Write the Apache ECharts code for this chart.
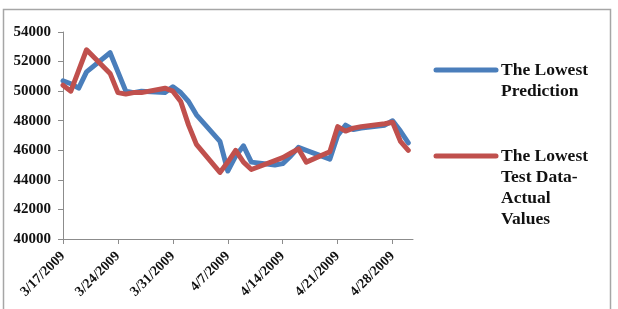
<!DOCTYPE html>
<html>
<head>
<meta charset="utf-8">
<style>
html,body{margin:0;padding:0;background:#fff;}
#chart{width:618px;height:309px;}
</style>
<script src="https://cdn.jsdelivr.net/npm/echarts@6/dist/echarts.min.js"></script>
</head>
<body>
<div id="chart"></div>
<script>
var dates = ['3/17/2009','3/18/2009','3/19/2009','3/20/2009','3/23/2009','3/24/2009','3/25/2009','3/26/2009','3/27/2009',
  '3/30/2009','3/31/2009','4/1/2009','4/2/2009','4/3/2009','4/6/2009','4/7/2009','4/8/2009','4/9/2009','4/10/2009',
  '4/13/2009','4/14/2009','4/15/2009','4/16/2009','4/17/2009','4/20/2009','4/21/2009','4/22/2009','4/23/2009','4/24/2009',
  '4/27/2009','4/28/2009','4/29/2009','4/30/2009'];
var predictionValues = [50700,50500,50200,51300,52600,51300,50000,49900,50000,
  49900,50300,49900,49300,48400,46600,44600,45600,46300,45200,
  45000,45100,45600,46200,46000,45400,47000,47700,47400,47500,
  47700,48000,47300,46500];
var actualValues = [50400,50000,51400,52800,51200,49900,49800,49900,49900,
  50200,50000,49300,47700,46400,44500,45200,46000,45200,44700,
  45300,45500,45800,46100,45200,45900,47600,47300,47500,47600,
  47800,47900,46600,46000];
var seriesNames = ['The Lowest\nPrediction', 'The Lowest\nTest Data-\nActual\nValues'];
var yMin = 40000, yMax = 54000, yStep = 2000;

function parseDate(s){ var p = s.split('/'); return Date.UTC(+p[2], +p[0]-1, +p[1]); }
var t0 = parseDate(dates[0]);
function dayOffset(s){ return Math.round((parseDate(s) - t0) / 86400000); }
function fmtDay(v){ var d = new Date(t0 + v*86400000); return (d.getUTCMonth()+1) + '/' + d.getUTCDate() + '/' + d.getUTCFullYear(); }

var predData = dates.map(function(d,i){ return [dayOffset(d), predictionValues[i]]; });
var actData = dates.map(function(d,i){ return [dayOffset(d), actualValues[i]]; });

var font = '"Liberation Serif","Times New Roman",serif';
var blue = '#4a7ebb', red = '#c0504d';
var axisGray = '#8c8c8c';

var chart = echarts.init(document.getElementById('chart'), null, {renderer:'canvas'});
chart.setOption({
  animation: false,
  backgroundColor: '#fff',
  grid: {left: 63, top: 32, width: 350, height: 207, containLabel: false},
  xAxis: {
    type: 'value', min: 0, max: 44.6, interval: 7,
    axisLine: {show: true, lineStyle: {color: axisGray, width: 1}},
    axisTick: {show: true, length: 5, lineStyle: {color: axisGray}},
    splitLine: {show: false},
    axisLabel: {rotate: 45, margin: 15, showMaxLabel: false, fontFamily: font, fontWeight: 'bold', fontSize: 14, color: '#111',
      formatter: function(v){ return fmtDay(v); }}
  },
  yAxis: {
    type: 'value', min: yMin, max: yMax, interval: yStep,
    axisLine: {show: true, lineStyle: {color: axisGray, width: 1}},
    axisTick: {show: true, length: 5, lineStyle: {color: axisGray}},
    splitLine: {show: false},
    axisLabel: {margin: 12, fontFamily: font, fontWeight: 'bold', fontSize: 15, color: '#111',
      formatter: function(v){ return String(v); }}
  },
  series: [
    {name: seriesNames[0], type: 'line', data: predData, symbol: 'none',
      lineStyle: {color: blue, width: 5, join: 'round', cap: 'round'}, itemStyle: {color: blue}},
    {name: seriesNames[1], type: 'line', data: actData, symbol: 'none',
      lineStyle: {color: red, width: 5, join: 'round', cap: 'round'}, itemStyle: {color: red}}
  ],
  graphic: [
    {type: 'rect', shape: {x: 3.5, y: 9.5, width: 607, height: 310}, style: {fill: 'none', stroke: '#a6a6a6', lineWidth: 1.5}, silent: true},
    {type: 'line', shape: {x1: 436, y1: 70, x2: 496, y2: 70}, style: {stroke: blue, lineWidth: 5, lineCap: 'round'}},
    {type: 'text', left: 501, top: 60, style: {text: seriesNames[0], fill: '#111', font: 'bold 17.5px ' + font, lineHeight: 21}},
    {type: 'line', shape: {x1: 436, y1: 156, x2: 496, y2: 156}, style: {stroke: red, lineWidth: 5, lineCap: 'round'}},
    {type: 'text', left: 501, top: 146, style: {text: seriesNames[1], fill: '#111', font: 'bold 17.5px ' + font, lineHeight: 21}}
  ]
});
</script>
</body>
</html>
